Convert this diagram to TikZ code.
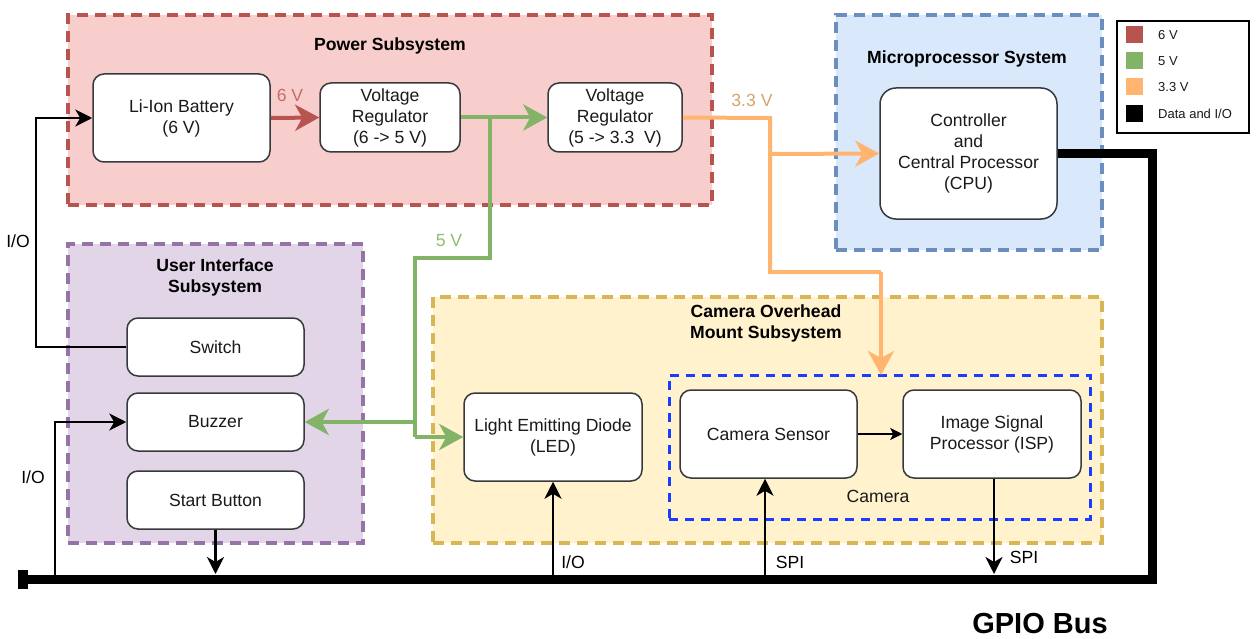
\documentclass[tikz,border=0pt]{standalone}
\usepackage{fontspec}
\setmainfont{Liberation Sans}
\usetikzlibrary{arrows.meta}
\definecolor{pwrfill}{HTML}{F8CECC}\definecolor{pwrline}{HTML}{B85450}
\definecolor{uifill}{HTML}{E1D5E7}\definecolor{uiline}{HTML}{9673A6}
\definecolor{camfill}{HTML}{FFF2CC}\definecolor{camline}{HTML}{D6B656}
\definecolor{micfill}{HTML}{DAE8FC}\definecolor{micline}{HTML}{6C8EBF}
\definecolor{vsix}{HTML}{B85450}\definecolor{vfive}{HTML}{82B366}
\definecolor{vthree}{HTML}{FFB570}\definecolor{camblue}{HTML}{1A3CFF}
\definecolor{boxline}{HTML}{36393D}\definecolor{txt}{HTML}{1A1A1A}
\begin{document}
\begin{tikzpicture}[x=1pt,y=-1pt,
  nfont/.style={font=\fontsize{17.6}{21}\selectfont},
  tfont/.style={font=\bfseries\fontsize{17.6}{21}\selectfont},
  grp/.style={line width=4pt, dash pattern=on 11pt off 7pt, inner sep=0pt},
  blk/.style={draw=boxline, fill=white, rounded corners=11pt, line width=1.5pt, align=center, nfont, text=txt, inner sep=0pt},
  lbl/.style={nfont, inner sep=0pt},
  pwrarrow/.style={line width=4pt, -{Stealth[length=24pt,width=26pt,inset=7pt]}},
  pwrline/.style={line width=4pt},
  sig/.style={line width=2.5pt, -{Stealth[length=17pt,width=17pt,inset=5pt]}},
]
\useasboundingbox (0,0) rectangle (1257,639);
% groups
\node[grp, draw=pwrline, fill=pwrfill, minimum width=644pt, minimum height=190pt] (pwr) at (390,110) {};
\node[grp, draw=micline, fill=micfill, minimum width=266pt, minimum height=235pt] (mic) at (969,132.5) {};
\node[grp, draw=uiline, fill=uifill, minimum width=295pt, minimum height=299pt] (ui) at (215.5,393.5) {};
\node[grp, draw=camline, fill=camfill, minimum width=669pt, minimum height=246pt] (cam) at (767.5,420) {};
\node[line width=3pt, draw=camblue, dash pattern=on 9pt off 7pt, inner sep=0pt, minimum width=421pt, minimum height=144pt] (camera) at (879.5,447) {};
% titles
\node[tfont] (tpwr) at (390,46) {Power Subsystem};
\node[tfont] (tmic) at (967,59) {Microprocessor System};
\node[tfont, align=center] (tui) at (215,277) {User Interface\\Subsystem};
\node[tfont, align=center] (tcam) at (766,323) {Camera Overhead\\Mount Subsystem};
\node[lbl, text=txt] (tcamera) at (878,496) {Camera};
% blocks
\node[blk, minimum width=177pt, minimum height=88pt] (bat) at (181.5,118) {Li-Ion Battery\\(6 V)};
\node[blk, minimum width=140pt, minimum height=69pt] (vr1) at (390,117.5) {Voltage\\Regulator\\(6 -> 5 V)};
\node[blk, minimum width=134pt, minimum height=69pt] (vr2) at (615,117.5) {Voltage\\Regulator\\(5 -> 3.3~~V)};
\node[blk, minimum width=177pt, minimum height=131pt, rounded corners=16pt] (cpu) at (968.5,153.5) {Controller\\and\\Central Processor\\(CPU)};
\node[blk, minimum width=177pt, minimum height=58pt] (sw) at (215.5,347) {Switch};
\node[blk, minimum width=177pt, minimum height=58pt] (buz) at (215.5,422) {Buzzer};
\node[blk, minimum width=177pt, minimum height=58pt] (stb) at (215.5,500) {Start Button};
\node[blk, minimum width=178pt, minimum height=88pt] (led) at (553,437) {Light Emitting Diode\\(LED)};
\node[blk, minimum width=177pt, minimum height=88pt] (sen) at (768.5,434) {Camera Sensor};
\node[blk, minimum width=178pt, minimum height=88pt] (isp) at (992,434) {Image Signal\\Processor (ISP)};
% legend
\node[draw=black, line width=1.5pt, fill=white, minimum width=132pt, minimum height=112pt, inner sep=0pt] (leg) at (1183,77) {};
\node[fill=vsix, minimum size=17pt, inner sep=0pt] (l1) at (1134.5,35) {};
\node[fill=vfive, minimum size=17pt, inner sep=0pt] (l2) at (1134.5,61) {};
\node[fill=vthree, minimum size=17pt, inner sep=0pt] (l3) at (1134.5,87) {};
\node[fill=black, minimum size=17pt, inner sep=0pt] (l4) at (1134.5,114) {};
\node[anchor=west, font=\fontsize{13}{15}\selectfont, text=txt, inner sep=0pt] (lt1) at (1158,35) {6 V};
\node[anchor=west, font=\fontsize{13}{15}\selectfont, text=txt, inner sep=0pt] (lt2) at (1158,61) {5 V};
\node[anchor=west, font=\fontsize{13}{15}\selectfont, text=txt, inner sep=0pt] (lt3) at (1158,87) {3.3 V};
\node[anchor=west, font=\fontsize{13}{15}\selectfont, text=txt, inner sep=0pt] (lt4) at (1158,114) {Data and I/O};
% coordinates
\coordinate (g1) at (490,118);
\coordinate (g2) at (490,258);
\coordinate (g3) at (415,258);
\coordinate (g4) at (415,422);
\coordinate (g5) at (415,437);
\coordinate (o1) at (770,118);
\coordinate (o2) at (770,154);
\coordinate (o3) at (770,272);
\coordinate (o4) at (881,272);
\coordinate (o5) at (881,375);
\coordinate (bTR) at (1152,153.5);
\coordinate (bBR) at (1152,579.5);
\coordinate (bL) at (18,579.5);
\coordinate (s1) at (36,347);
\coordinate (s2) at (36,118);
\coordinate (k1) at (55,579.5);
\coordinate (k2) at (55,422);
\coordinate (k3) at (215.5,574);
\coordinate (k4) at (553,575);
\coordinate (k5) at (765,575);
\coordinate (k6) at (994,574);
% power connectors
\draw[vsix, pwrarrow] (bat.east) -- (vr1.west);
\draw[vfive, pwrarrow] (vr1.east) -- (vr2.west);
\draw[vfive, pwrline] (g1) -- (g2) -- (g3) -- (g5);
\draw[vfive, pwrarrow] (g5) -- (led.west);
\draw[vfive, pwrarrow] (g4) -- (buz.east);
\draw[vthree, pwrline] (vr2.east) -- (o1) -- (o3) -- (o4);
\draw[vthree, pwrarrow] (o4) -- (o5);
\draw[vthree, pwrarrow] (o2) -- (cpu.west);
% bus
\draw[line width=9pt, line join=miter, -{Rectangle[length=10pt,width=19pt]}] (cpu.east) -- (bTR) -- (bBR) -- (bL);
% signals
\draw[sig] (sw.west) -- (s1) -- (s2) -- (bat.west);
\draw[sig] (k1) -- (k2) -- (buz.west);
\draw[sig] (stb.south) -- (k3);
\draw[sig] (k4) -- (led.south);
\draw[sig] (k5) -- (k5 |- sen.south);
\draw[sig] (isp.south -| k6) -- (k6);
\draw[line width=1.5pt, -{Stealth[length=12pt,width=12pt,inset=3pt]}] (sen.east) -- (isp.west);
% labels
\node[lbl, text=vsix!85] (v6) at (290,95) {6 V};
\node[lbl, text=vfive!90] (v5) at (449,241) {5 V};
\node[lbl, text={rgb,255:red,214;green,163;blue,110}] (v33) at (752,100) {3.3 V};
\node[lbl] (io1) at (18,241) {I/O};
\node[lbl] (io2) at (33,477) {I/O};
\node[lbl] (io3) at (573,562) {I/O};
\node[lbl] (spi1) at (790,562) {SPI};
\node[lbl] (spi2) at (1024,557) {SPI};
\node[font=\bfseries\fontsize{29}{33}\selectfont, inner sep=0pt] (gpio) at (1040,624) {GPIO Bus};
\end{tikzpicture}
\end{document}
